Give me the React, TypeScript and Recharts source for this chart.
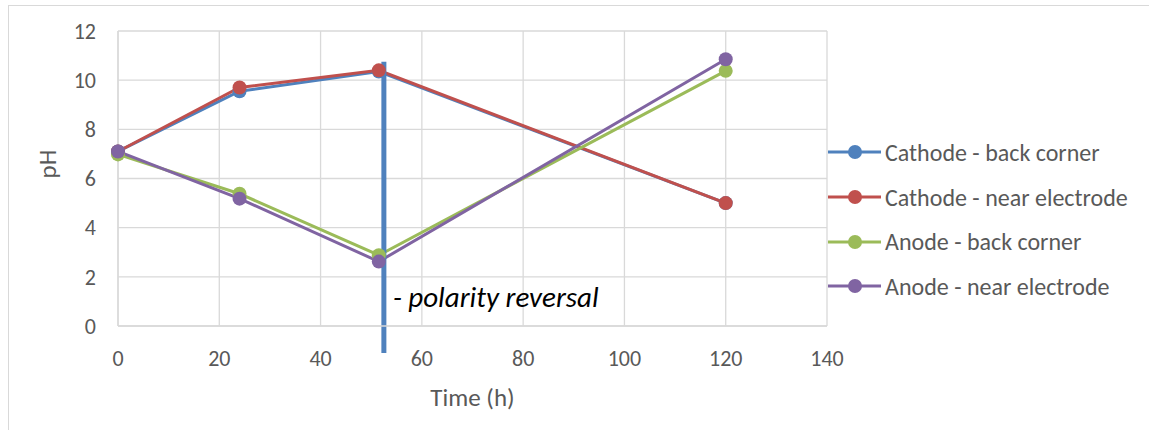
import React from 'react';
import { LineChart, Line, XAxis, YAxis, CartesianGrid, ReferenceLine } from 'recharts';

const times = [0, 24, 51.5, 120];
const cathodeBack = [7.1, 9.55, 10.35, 5.0];
const cathodeNear = [7.1, 9.7, 10.4, 5.0];
const anodeBack = [6.98, 5.38, 2.88, 10.38];
const anodeNear = [7.1, 5.18, 2.62, 10.85];

const xTicks = [0, 20, 40, 60, 80, 100, 120, 140];
const yTicks = [0, 2, 4, 6, 8, 10, 12];

const reversalTime = 52.5;
const reversalLabel = '- polarity reversal';

const series = [
  { key: 'cathodeBack', name: 'Cathode - back corner', color: '#4f81bd', values: cathodeBack },
  { key: 'cathodeNear', name: 'Cathode - near electrode', color: '#c0504d', values: cathodeNear },
  { key: 'anodeBack', name: 'Anode - back corner', color: '#9bbb59', values: anodeBack },
  { key: 'anodeNear', name: 'Anode - near electrode', color: '#8064a2', values: anodeNear },
];

const data = times.map((t, i) => {
  const row: Record<string, number> = { time: t };
  series.forEach((s) => {
    row[s.key] = s.values[i];
  });
  return row;
});

const font = 'Carlito, Calibri, "Open Sans", sans-serif';
const grey = '#595959';

const ReversalLabel = (props: any) => {
  const { viewBox } = props;
  return (
    <text
      x={viewBox.x + 9}
      y={viewBox.y + viewBox.height - 46}
      fontSize={29}
      fontStyle="italic"
      fill="#000"
      fontFamily={font}
    >
      {reversalLabel}
    </text>
  );
};

export default function App() {
  return (
    <div style={{ position: 'relative', width: 1149, height: 430, fontFamily: font }}>
      <style>{`body{margin:0}`}</style>
      <div
        style={{
          position: 'absolute',
          left: 8,
          top: 5,
          right: 0,
          bottom: 0,
          borderLeft: '1px solid #d9d9d9',
          borderTop: '1px solid #d9d9d9',
        }}
      />
      <LineChart
        width={1149}
        height={430}
        data={data}
        margin={{ top: 31, right: 322, bottom: 24, left: 40 }}
      >
        <CartesianGrid stroke="#d9d9d9" strokeWidth={1.3} />
        <XAxis
          dataKey="time"
          type="number"
          domain={[0, 140]}
          ticks={xTicks}
          tickLine={false}
          axisLine={{ stroke: '#d9d9d9', strokeWidth: 1.3 }}
          tick={{ fill: grey, fontSize: 22, fontFamily: font }}
          tickMargin={18}
          height={80}
          label={{ value: 'Time (h)', position: 'insideBottom', offset: 0, fill: grey, fontSize: 25, fontFamily: font }}
        />
        <YAxis
          type="number"
          domain={[0, 12]}
          ticks={yTicks}
          tickLine={false}
          axisLine={{ stroke: '#d9d9d9', strokeWidth: 1.3 }}
          tick={{ fill: grey, fontSize: 22, fontFamily: font }}
          tickMargin={16}
          width={78}
          label={{ value: 'pH', angle: -90, position: 'insideLeft', offset: 7, fill: grey, fontSize: 25, fontFamily: font }}
        />
        {series.map((s) => (
          <Line
            key={s.key}
            dataKey={s.key}
            name={s.name}
            stroke={s.color}
            strokeWidth={3}
            dot={{ r: 7, fill: s.color, stroke: s.color, strokeWidth: 0 }}
            activeDot={false}
            isAnimationActive={false}
          />
        ))}
        <ReferenceLine
          segment={[
            { x: reversalTime, y: 10.75 },
            { x: reversalTime, y: -1.1 },
          ]}
          stroke="#4f81bd"
          strokeWidth={5}
          ifOverflow="visible"
          label={<ReversalLabel />}
        />
      </LineChart>
      <div style={{ position: 'absolute', left: 828, top: 130 }}>
        {series.map((s) => (
          <div key={s.key} style={{ display: 'flex', alignItems: 'center', height: 44.7 }}>
            <svg width={56} height={20}>
              <line x1={0} y1={10} x2={53} y2={10} stroke={s.color} strokeWidth={3} />
              <circle cx={27} cy={10} r={7} fill={s.color} />
            </svg>
            <span style={{ color: grey, fontSize: 24, marginLeft: 1, whiteSpace: 'nowrap' }}>{s.name}</span>
          </div>
        ))}
      </div>
    </div>
  );
}
